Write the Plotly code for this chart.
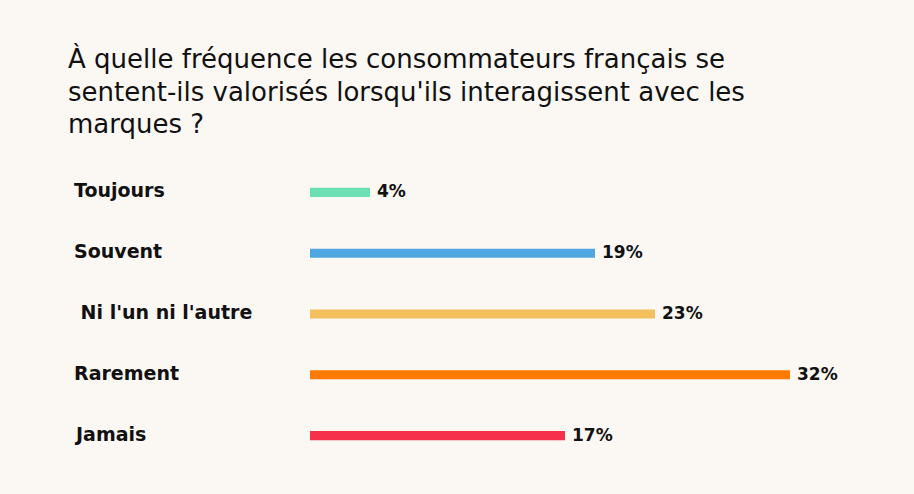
import plotly.graph_objects as go

categories = ["Toujours", "Souvent", " Ni l'un ni l'autre", "Rarement", "Jamais"]
values = [4, 19, 23, 32, 17]
value_labels = ["4%", "19%", "23%", "32%", "17%"]
colors = ["#6ddfb4", "#4fa7e2", "#f4c05e", "#ff7a00", "#f5314b"]
title_lines = [
    "À quelle fréquence les consommateurs français se",
    "sentent-ils valorisés lorsqu'ils interagissent avec les",
    "marques ?",
]

W, H = 914, 494
ML, MR, MT, MB = 310, 4, 162, 28
plot_w = W - ML - MR
plot_h = H - MT - MB
FONT = "'DejaVu Sans', Poppins, sans-serif"
BG = "#fbf7f3"

def px_to_paper_x(px):
    return (px - ML) / plot_w

def py_to_paper_y(py):
    return (H - MB - py) / plot_h

fig = go.Figure()
fig.add_trace(go.Bar(
    x=values, y=categories, orientation="h",
    marker=dict(color=colors, line=dict(width=0)),
    width=0.15, hoverinfo="skip",
))

annotations = []
for i, line in enumerate(title_lines):
    annotations.append(dict(
        text=line, xref="paper", yref="paper",
        x=px_to_paper_x(66), y=py_to_paper_y(59 + 32.5 * i),
        xanchor="left", yanchor="middle", showarrow=False,
        font=dict(family=FONT, size=26, color="#111111"),
    ))
for cat in categories:
    annotations.append(dict(
        text="<b>" + cat + "</b>", xref="paper", yref="y",
        x=px_to_paper_x(72), y=cat, yshift=2,
        xanchor="left", yanchor="middle", showarrow=False,
        font=dict(family=FONT, size=19, color="#111111"),
    ))
for cat, v, lab in zip(categories, values, value_labels):
    annotations.append(dict(
        text="<b>" + lab + "</b>", xref="x", yref="y",
        x=v, y=cat, xshift=5, yshift=1,
        xanchor="left", yanchor="middle", showarrow=False,
        font=dict(family=FONT, size=17, color="#111111"),
    ))

fig.update_layout(
    width=W, height=H,
    margin=dict(l=ML, r=MR, t=MT, b=MB),
    paper_bgcolor=BG, plot_bgcolor=BG,
    showlegend=False,
    xaxis=dict(range=[0, plot_w / 15], visible=False, fixedrange=True),
    yaxis=dict(autorange="reversed", showticklabels=False, showgrid=False,
               zeroline=False, fixedrange=True),
    annotations=annotations,
)

fig.write_html("out.html", config={"displayModeBar": False})
